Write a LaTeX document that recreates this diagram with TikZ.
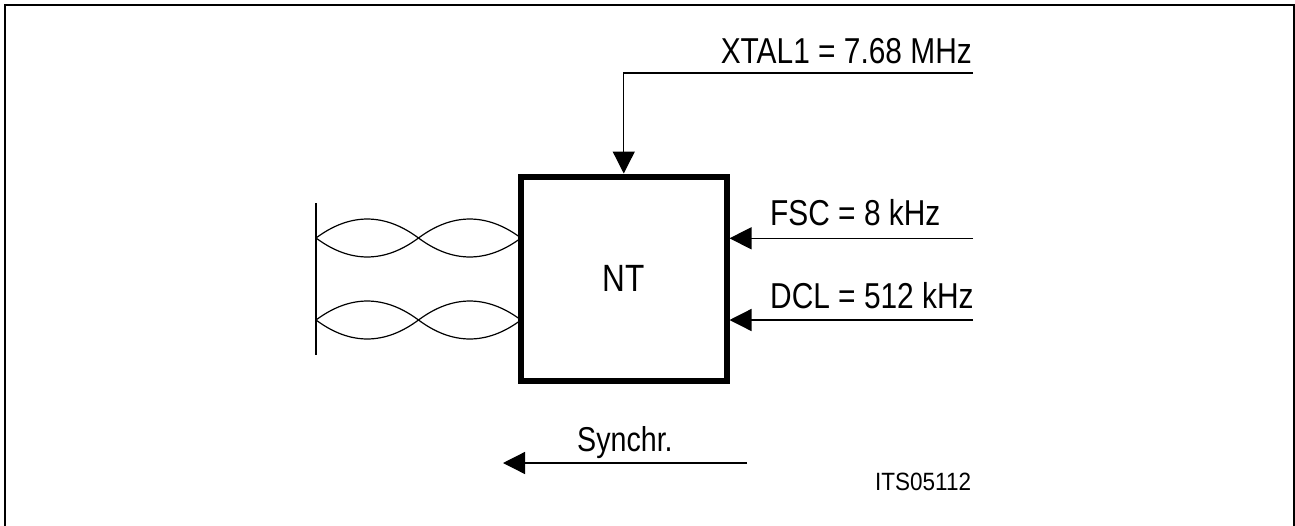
\documentclass[tikz,border=0pt]{standalone}
\usepackage{fontspec}
\setmainfont{Liberation Sans}[FakeStretch=0.83]
\newfontfamily\idfont{Liberation Sans}[FakeStretch=0.9]
\usetikzlibrary{arrows.meta}
\begin{document}
\begin{tikzpicture}[x=1pt,y=-1pt,
  thin line/.style={line width=1.3pt},
  sig/.style={thin line,-{Triangle[length=22pt,width=22pt]}},
  lbl/.style={inner sep=0pt,font=\fontsize{36}{40}\selectfont},
  wire/.style={line width=1.2pt}]
\useasboundingbox (0,0) rectangle (1295,525);
\draw[line width=2pt] (5,5) rectangle (1294,530);
% NT box
\node[draw,line width=6pt,minimum width=205.5pt,minimum height=204.5pt,inner sep=0pt,
  font=\fontsize{38}{42}\selectfont] (NT) at (623.75,278.75) {NT};
% XTAL1
\coordinate (xtalend) at (973,73);
\coordinate (xtalbend) at (623.75,73);
\node[lbl,anchor=base east] (xtal) at (972,63) {XTAL1 = 7.68 MHz};
\draw[sig] (xtalend) -- (xtalbend) -- (NT.north);
% FSC
\coordinate (fscend) at (973,238.3);
\node[lbl,anchor=base west] (fsc) at (770,225) {FSC = 8 kHz};
\draw[sig] (fscend) -- (fscend -| NT.east);
% DCL
\coordinate (dclend) at (973,320);
\node[lbl,anchor=base west] (dcl) at (770,308) {DCL = 512 kHz};
\draw[sig] (dclend) -- (dclend -| NT.east);
% twisted pairs
\coordinate (vtop) at (316,203);
\coordinate (vbot) at (316,355);
\draw[thin line] (vtop) -- (vbot);
\foreach \yy/\nm in {238/a,320/b}{
  \coordinate (p\nm0) at (316,\yy);
  \coordinate (p\nm1) at (418.5,\yy);
  \coordinate (p\nm2) at (521,\yy);
  \draw[wire] (p\nm0) .. controls (350,\yy-25.3) and (384.5,\yy-25.3) .. (p\nm1)
                    .. controls (452.5,\yy+25.3) and (487,\yy+25.3) .. (p\nm2);
  \draw[wire] (p\nm0) .. controls (350,\yy+25.3) and (384.5,\yy+25.3) .. (p\nm1)
                    .. controls (452.5,\yy-25.3) and (487,\yy-25.3) .. (p\nm2);
}
% Synchr
\coordinate (synstart) at (747,463);
\coordinate (synend) at (503,463);
\node[lbl,anchor=base west,font=\fontsize{34.5}{38}\selectfont] (syn) at (577,451) {Synchr.};
\draw[sig] (synstart) -- (synend);
% ID
\node[inner sep=0pt,anchor=base west,font=\idfont\fontsize{25}{30}\selectfont] (id) at (875,490) {ITS05112};
\end{tikzpicture}
\end{document}
